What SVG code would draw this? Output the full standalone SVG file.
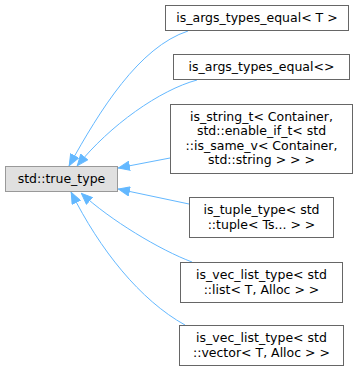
<svg xmlns="http://www.w3.org/2000/svg" width="363" height="371" viewBox="0 0 363 371">
  <style>
    .node rect { fill: #ffffff; stroke: #666666; stroke-width: 1; }
    .root rect { fill: #e0e0e0; stroke: #999999; }
    .node text { font-family: "DejaVu Sans", "Liberation Sans", sans-serif; font-size: 12.5px; fill: #000000; text-anchor: middle; }
    .edge { fill: none; stroke: #63b8ff; stroke-width: 1; marker-end: url(#arrow); }
  </style>
  <defs>
    <marker id="arrow" viewBox="0 0 12 10" refX="12" refY="5" markerWidth="12" markerHeight="10" markerUnits="userSpaceOnUse" orient="auto">
      <path d="M0.5,0.5 L11.5,5 L0.5,9.5 Z" fill="#63b8ff" stroke="#63b8ff" stroke-width="1"/>
    </marker>
  </defs>

  <!-- inheritance edges, pointing at the base class -->
  <g id="edges">
    <path class="edge" d="M188,31 C139,47 100,110 69,166"/>
    <path class="edge" d="M197,80 C160,90 110,125 77,166"/>
    <path class="edge" d="M170,158 L118,168"/>
    <path class="edge" d="M189,204 L118,189"/>
    <path class="edge" d="M192,262 C160,250 110,220 81,193"/>
    <path class="edge" d="M185,325 C140,300 100,250 71,192"/>
  </g>

  <g id="node_true_type" class="node root">
    <rect x="5.5" y="166.5" width="112" height="25"/>
    <text x="61.5" y="183.3">std::true_type</text>
  </g>

  <g id="node_is_args_types_equal_T" class="node">
    <rect x="165.5" y="5.5" width="183" height="25"/>
    <text x="257" y="22.3">is_args_types_equal&lt; T &gt;</text>
  </g>

  <g id="node_is_args_types_equal_empty" class="node">
    <rect x="173.5" y="54.5" width="176" height="25"/>
    <text x="261.5" y="71.3">is_args_types_equal&lt;&gt;</text>
  </g>

  <g id="node_is_string_t" class="node">
    <rect x="170.5" y="104.5" width="182" height="69"/>
    <text x="261.5" y="120.5">is_string_t&lt; Container,</text>
    <text x="261.5" y="135">std::enable_if_t&lt; std</text>
    <text x="261.5" y="149.5">::is_same_v&lt; Container,</text>
    <text x="261.5" y="164">std::string &gt; &gt; &gt;</text>
  </g>

  <g id="node_is_tuple_type" class="node">
    <rect x="189.5" y="197.5" width="144" height="40"/>
    <text x="261.5" y="214">is_tuple_type&lt; std</text>
    <text x="261.5" y="228.5">::tuple&lt; Ts... &gt; &gt;</text>
  </g>

  <g id="node_is_vec_list_type_list" class="node">
    <rect x="180.5" y="262.5" width="162" height="40"/>
    <text x="261.5" y="279">is_vec_list_type&lt; std</text>
    <text x="261.5" y="293.5">::list&lt; T, Alloc &gt; &gt;</text>
  </g>

  <g id="node_is_vec_list_type_vector" class="node">
    <rect x="179.5" y="325.5" width="164" height="40"/>
    <text x="261.5" y="342">is_vec_list_type&lt; std</text>
    <text x="261.5" y="356.5">::vector&lt; T, Alloc &gt; &gt;</text>
  </g>
</svg>
